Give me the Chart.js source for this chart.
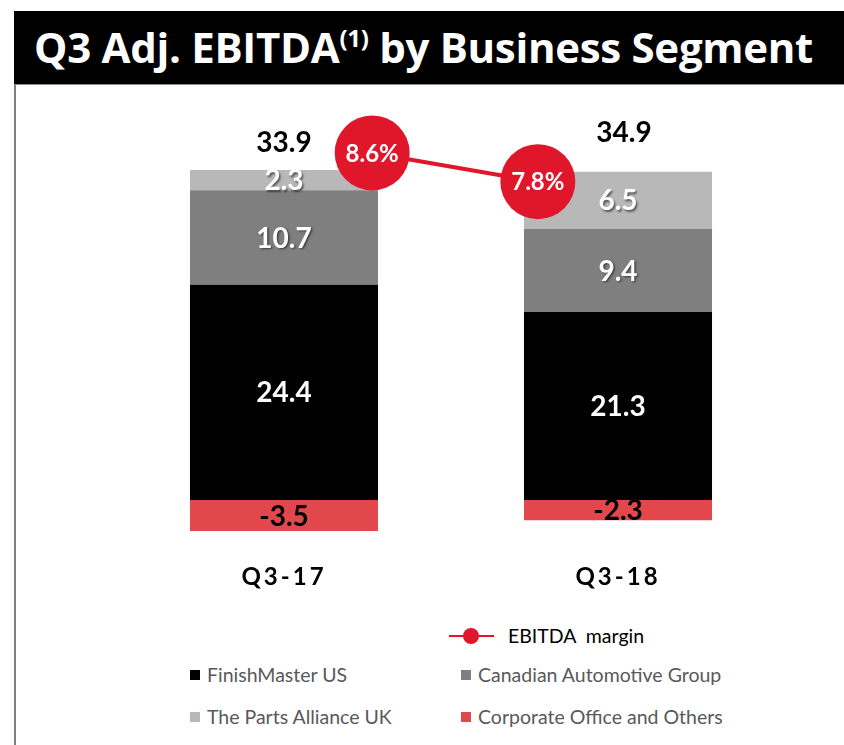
<!DOCTYPE html>
<html>
<head>
<meta charset="utf-8">
<script src="https://cdn.jsdelivr.net/npm/chart.js@4/dist/chart.umd.min.js"></script>
<style>
  html, body { margin: 0; padding: 0; background: #fff; }
  body { width: 844px; height: 745px; position: relative; overflow: hidden; font-family: Lato, "Open Sans", sans-serif; }
  #title { position: absolute; left: 14px; top: 11px; width: 830px; height: 74px; background: #000; color: #fff;
           font: bold 42px "Open Sans", sans-serif; line-height: 72px; padding-left: 20px; box-sizing: border-box; white-space: nowrap;
           border-bottom: 1px solid #8a8a8a; letter-spacing: -0.3px; }
  #title sup { font-size: 24px; line-height: 0; vertical-align: 16px; }
  #leftline { position: absolute; left: 14px; top: 85px; width: 2px; height: 660px; background: #7f7f7f; }
  #chart { position: absolute; left: 0; top: 0; }
  .lg { position: absolute; font: 19.5px Lato, sans-serif; color: #595959; white-space: nowrap; line-height: 22px; }
  .lg .sw { position: absolute; width: 10px; height: 10px; top: 6px; }
  .lg .ln { position: absolute; width: 45px; height: 2px; top: 10px; }
  .lg .dot { position: absolute; width: 16px; height: 16px; border-radius: 50%; top: 3px; }
</style>
</head>
<body>
<div id="title">Q3 Adj. EBITDA<sup>(1)</sup> by Business Segment</div>
<div id="leftline"></div>
<canvas id="chart" width="844" height="619"></canvas>
<div id="legend"></div>
<script>
// ---- data ----
const categories = ['Q3-17', 'Q3-18'];
const finishMasterUS = [24.4, 21.3];
const canadianAutomotive = [10.7, 9.4];
const partsAllianceUK = [2.3, 6.5];
const corporateOffice = [-3.5, -2.3];
const ebitdaMargin = [8.6, 7.8];
const seriesNames = ['FinishMaster US', 'Canadian Automotive Group', 'The Parts Alliance UK', 'Corporate Office and Others', 'EBITDA  margin'];

// ---- styles ----
const RED = '#e0162b';
const barColors = ['#000000', '#7f7f7f', '#b8b8b8', '#e2474b'];
const labelColors = ['#ffffff', '#ffffff', '#ffffff', '#000000'];
// horizontal offset of the margin markers from their category centre (fraction of a category)
const marginOffset = [0.264, -0.24];

const barSeries = [finishMasterUS, canadianAutomotive, partsAllianceUK, corporateOffice];

const datasets = barSeries.map((vals, i) => ({
  type: 'bar',
  label: seriesNames[i],
  data: vals,
  backgroundColor: barColors[i],
  borderWidth: 0,
  xAxisID: 'x',
  yAxisID: 'y',
  order: 2,
  grouped: false,
  barPercentage: 0.563,
  categoryPercentage: 1.0,
  _labelColor: labelColors[i]
}));

datasets.push({
  type: 'line',
  label: seriesNames[4],
  data: ebitdaMargin.map((v, i) => ({ x: i + marginOffset[i], y: v })),
  borderColor: RED,
  borderWidth: 4,
  pointRadius: 37.5,
  pointHoverRadius: 37.5,
  pointBackgroundColor: RED,
  pointBorderColor: RED,
  pointBorderWidth: 0,
  xAxisID: 'xm',
  yAxisID: 'ym',
  clip: false,
  order: 1
});

const labelPlugin = {
  id: 'labels',
  beforeDraw(chart) { chart.ctx.letterSpacing = '3px'; },
  beforeDatasetsDraw(chart) { chart.ctx.letterSpacing = '0px'; },
  afterDatasetsDraw(chart) {
    const ctx = chart.ctx;
    ctx.save();
    ctx.letterSpacing = '0px';
    ctx.textAlign = 'center';
    ctx.textBaseline = 'middle';
    const tops = categories.map(() => Infinity);
    chart.data.datasets.forEach((ds, di) => {
      if (ds.type !== 'bar') return;
      const meta = chart.getDatasetMeta(di);
      meta.data.forEach((el, i) => {
        const v = ds.data[i];
        const p = el.getProps(['x', 'y', 'base'], true);
        const cy = (p.y + p.base) / 2;
        if (v > 0) tops[i] = Math.min(tops[i], p.y);
        ctx.font = 'bold 28px Lato';
        ctx.fillStyle = ds._labelColor;
        if (ds._labelColor === '#ffffff') {
          ctx.shadowColor = 'rgba(0,0,0,0.5)';
          ctx.shadowOffsetX = 1.5; ctx.shadowOffsetY = 1.5; ctx.shadowBlur = 2;
        } else {
          ctx.shadowColor = 'transparent';
        }
        ctx.fillText(v.toFixed(1), p.x, cy + 1);
      });
    });
    ctx.shadowColor = 'transparent';
    // totals
    const xScale = chart.scales.x;
    categories.forEach((c, i) => {
      const total = barSeries.reduce((s, arr) => s + arr[i], 0);
      ctx.font = 'bold 28px Lato';
      ctx.fillStyle = '#000';
      ctx.fillText(total.toFixed(1), xScale.getPixelForValue(i) + (i ? 6 : 0), tops[i] - (i ? 39 : 27));
    });
    // margin labels
    const li = chart.data.datasets.length - 1;
    chart.getDatasetMeta(li).data.forEach((el, i) => {
      ctx.font = 'bold 24px Lato';
      ctx.fillStyle = '#fff';
      ctx.fillText(ebitdaMargin[i].toFixed(1) + '%', el.x, el.y + 1);
    });
    ctx.restore();
  }
};

const chart = new Chart(document.getElementById('chart'), {
  type: 'bar',
  data: { labels: categories, datasets },
  options: {
    responsive: false,
    animation: false,
    devicePixelRatio: 1,
    layout: { padding: { left: 117, right: 59, top: 147, bottom: 8 } },
    plugins: { legend: { display: false }, tooltip: { enabled: false } },
    scales: {
      x: {
        type: 'category',
        stacked: true,
        offset: true,
        grid: { display: false, drawTicks: false },
        border: { display: false },
        ticks: { color: '#000', font: { family: 'Lato', weight: 'bold', size: 24 }, padding: 19 }
      },
      xm: { type: 'linear', display: false, offset: false, min: -0.5, max: 1.5 },
      y: { stacked: true, display: false, min: -5, max: 40 },
      ym: { type: 'linear', display: false, min: -2.283, max: 8.766 }
    }
  },
  plugins: [labelPlugin]
});

// ---- legend (built from the chart's datasets) ----
const legend = document.getElementById('legend');
const lineDs = chart.data.datasets[4];
const li = document.createElement('div');
li.className = 'lg';
li.style.left = '449px'; li.style.top = '625px'; li.style.color = '#000';
li.innerHTML = '<span class="ln" style="left:0;background:' + lineDs.borderColor + '"></span>' +
  '<span class="dot" style="left:14px;background:' + lineDs.pointBackgroundColor + '"></span>' +
  '<span style="margin-left:59px;white-space:pre">' + lineDs.label + '</span>';
legend.appendChild(li);
const colLeft = [190, 461];
const rowTop = [664, 706];
chart.data.datasets.slice(0, 4).forEach((ds, i) => {
  const d = document.createElement('div');
  d.className = 'lg';
  d.style.left = colLeft[i % 2] + 'px';
  d.style.top = rowTop[Math.floor(i / 2)] + 'px';
  d.innerHTML = '<span class="sw" style="left:0;background:' + ds.backgroundColor + '"></span>' +
    '<span style="margin-left:17px">' + ds.label + '</span>';
  legend.appendChild(d);
});
</script>
</body>
</html>
